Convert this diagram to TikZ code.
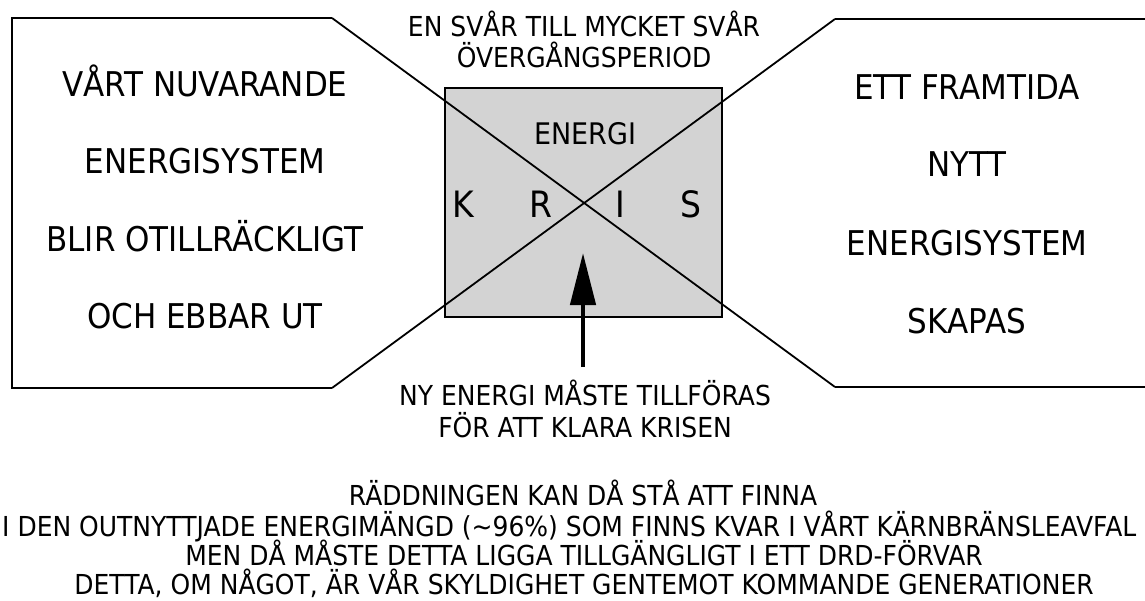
\documentclass[tikz,border=0pt]{standalone}
\usepackage{fontspec}
\usepackage{graphicx}
\setmainfont{DejaVu Sans}
\usetikzlibrary{arrows.meta}
\definecolor{boxgray}{RGB}{211,211,211}
\newcommand{\tallish}[1]{\scalebox{1}[1.1]{#1}}
\tikzset{
  big/.style={anchor=base, inner sep=0pt, font=\fontsize{31}{31}\selectfont},
  small/.style={anchor=base, inner sep=0pt, font=\fontsize{25}{25}\selectfont},
  kris/.style={anchor=base, inner sep=0pt, font=\fontsize{33}{33}\selectfont},
  outline/.style={draw=black, line width=2pt, line join=miter},
  cross/.style={draw=black, line width=1.8pt},
  crisisbox/.style={draw=black, line width=2.6pt, fill=boxgray, inner sep=0pt, minimum width=277pt, minimum height=229pt},
  bigarrow/.style={draw=black, line width=4.5pt, -{Triangle[length=52pt, width=25pt]}}
}
\begin{document}
\begin{tikzpicture}[x=1pt, y=-1pt]
\useasboundingbox (0,0) rectangle (1145,600);
% crisis box
\node[crisisbox] (box) at (583.5,202.5) {};
% corner coordinates of the outer shapes
\coordinate (lt) at (332,18);
\coordinate (lb) at (332,388);
\coordinate (ltl) at (12,18);
\coordinate (lbl) at (12,388);
\coordinate (rt) at (835,19);
\coordinate (rb) at (835,387);
\coordinate (rtr) at (1146,19);
\coordinate (rbr) at (1146,387);
% left shape
\draw[outline] (lt) -- (ltl) -- (lbl) -- (lb);
% right shape
\draw[outline] (rtr) -- (rt);
\draw[outline] (rbr) -- (rb);
% diagonals
\draw[cross] (lt) -- (rb);
\draw[cross] (lb) -- (rt);
% texts in box
\node[small, font=\fontsize{27}{27}\selectfont] (energi) at (585,144) {\tallish{ENERGI}};
\node[kris] (k) at (463,217) {\tallish{K}};
\node[kris] (r) at (541,217) {\tallish{R}};
\node[kris] (i) at (620,217) {\tallish{I}};
\node[kris] (s) at (691,217) {\tallish{S}};
% arrow
\coordinate (arrowfoot) at (583,367);
\coordinate (arrowtip) at (583,253);
\draw[bigarrow] (arrowfoot) -- (arrowtip);
% top labels
\node[small] (top1) at (584,36) {\tallish{EN SVÅR TILL MYCKET SVÅR}};
\node[small] (top2) at (584,67) {\tallish{ÖVERGÅNGSPERIOD}};
% below arrow
\node[small] (ny1) at (585,405) {\tallish{NY ENERGI MÅSTE TILLFÖRAS}};
\node[small] (ny2) at (585,437) {\tallish{FÖR ATT KLARA KRISEN}};
% left texts
\node[big] (l1) at (205,96) {\tallish{VÅRT NUVARANDE}};
\node[big] (l2) at (205,173) {\tallish{ENERGISYSTEM}};
\node[big] (l3) at (205,251) {\tallish{BLIR OTILLRÄCKLIGT}};
\node[big] (l4) at (205,328) {\tallish{OCH EBBAR UT}};
% right texts
\node[big] (r1) at (967,99) {\tallish{ETT FRAMTIDA}};
\node[big] (r2) at (967,176) {\tallish{NYTT}};
\node[big] (r3) at (967,255) {\tallish{ENERGISYSTEM}};
\node[big] (r4) at (967,333) {\tallish{SKAPAS}};
% bottom text
\node[small] (b1) at (583,505) {\tallish{RÄDDNINGEN KAN DÅ STÅ ATT FINNA}};
\node[small, anchor=base west] (b2) at (2,536) {\tallish{I DEN OUTNYTTJADE ENERGIMÄNGD (\char"7E\relax 96\%) SOM FINNS KVAR I VÅRT KÄRNBRÄNSLEAVFAL}};
\node[small] (b3) at (584,565) {\tallish{MEN DÅ MÅSTE DETTA LIGGA TILLGÄNGLIGT I ETT DRD-FÖRVAR}};
\node[small] (b4) at (584,594) {\tallish{DETTA, OM NÅGOT, ÄR VÅR SKYLDIGHET GENTEMOT KOMMANDE GENERATIONER}};
\end{tikzpicture}
\end{document}
